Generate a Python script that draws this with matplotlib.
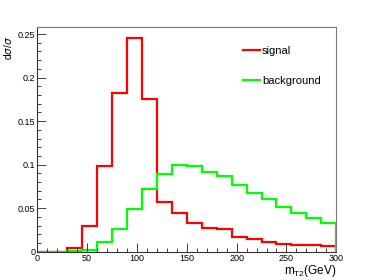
import numpy as np
import matplotlib
matplotlib.use("Agg")
import matplotlib.pyplot as plt
from matplotlib.ticker import MultipleLocator

plt.rcParams["font.family"] = ["Liberation Sans", "DejaVu Sans"]

# histogram bins (GeV)
bin_edges = np.arange(0, 301, 15)

signal = [0.0, 0.0, 0.004, 0.030, 0.099, 0.182, 0.245, 0.175, 0.057, 0.044,
          0.033, 0.027, 0.026, 0.017, 0.015, 0.0115, 0.009, 0.008, 0.0073, 0.007]
background = [0.0, 0.0, 0.0003, 0.002, 0.011, 0.026, 0.049, 0.072, 0.089, 0.100,
              0.098, 0.092, 0.087, 0.077, 0.067, 0.061, 0.051, 0.044, 0.039, 0.033]

fig = plt.figure(figsize=(3.74, 2.8), dpi=100)
ax = fig.add_axes([0.0998, 0.101, 0.7993, 0.8015])

ax.stairs(signal, bin_edges, color="#ff0000", lw=1.6, label="signal")
ax.stairs(background, bin_edges, color="#00ff00", lw=1.6, label="background")

ax.set_xlim(0, 300)
ax.set_ylim(0, 0.2577)

ax.xaxis.set_major_locator(MultipleLocator(50))
ax.xaxis.set_minor_locator(MultipleLocator(10))
ax.yaxis.set_major_locator(MultipleLocator(0.05))
ax.yaxis.set_minor_locator(MultipleLocator(0.01))
ax.set_yticks([0, 0.05, 0.1, 0.15, 0.2, 0.25])
ax.set_yticklabels(["0", "0.05", "0.1", "0.15", "0.2", "0.25"])

ax.tick_params(which="both", direction="in", top=False, right=False,
               labelsize=6.5, pad=1.5, color="#222222", width=0.6)
ax.tick_params(which="major", length=6.5)
ax.tick_params(which="minor", length=3.2)

for side in ["top", "right"]:
    ax.spines[side].set_color("#777777")
    ax.spines[side].set_linewidth(0.8)
for side in ["left", "bottom"]:
    ax.spines[side].set_color("#333333")
    ax.spines[side].set_linewidth(0.8)

ax.set_xlabel(r"m$_{\mathregular{T2}}$(GeV)", fontsize=8.5, loc="right", labelpad=0)
ax.set_ylabel(r"d$\sigma$/$\sigma$", fontsize=7.5, loc="top")
ax.yaxis.set_label_coords(-0.078, 0.96)

ax.legend(loc="upper left", bbox_to_anchor=(0.655, 0.96), frameon=False,
          fontsize=8, handlelength=1.5, handletextpad=0.2, labelspacing=1.75)

fig.savefig("out.png", dpi=100)
